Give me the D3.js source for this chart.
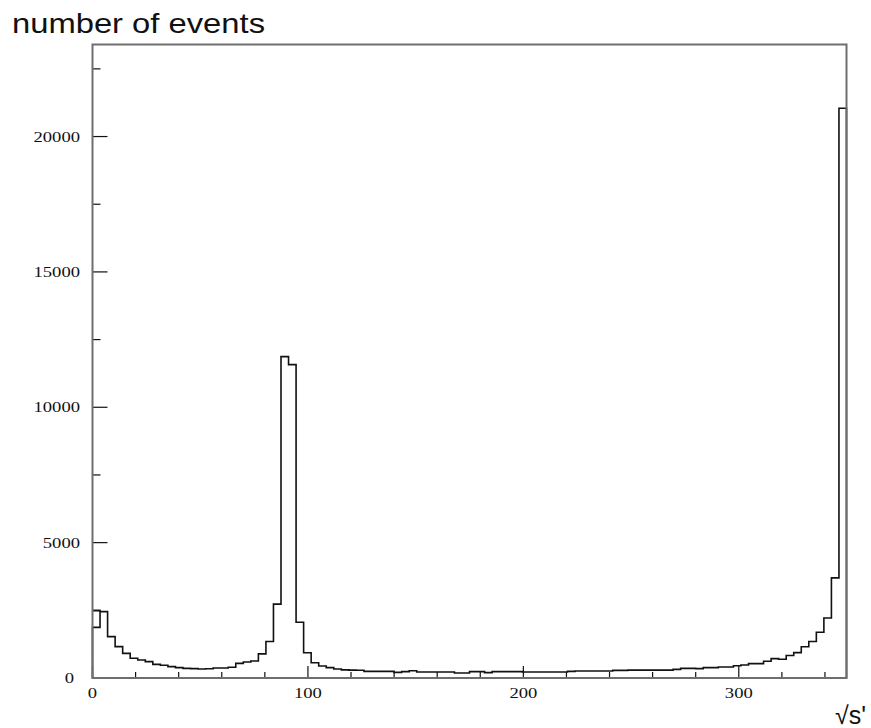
<!DOCTYPE html>
<meta charset="utf-8">
<title>number of events</title>
<script src="https://d3js.org/d3.v7.min.js"></script>
<style>
body {margin: 0; background: #fff;}
.frame {fill: none; stroke: #6e6e6e; stroke-width: 2px;}
.hist {fill: none; stroke: #111; stroke-width: 1.6px;}
.tick {stroke: #111; stroke-width: 1.2px;}
.num {font-family: "Liberation Serif", "DejaVu Serif", serif; font-size: 15px; fill: #111;}
</style>
<body>
<div id="my_dataviz"></div>
<script>
// histogram: 100 bins of width 3.5 from 0 to 350
var binWidth = 3.5;
var counts = [
  1870, 2450, 1530, 1160, 910, 730, 665, 605, 505, 470,
  420, 385, 357, 345, 332, 340, 369, 370, 395, 540,
  590, 630, 890, 1350, 2730, 11870, 11575, 2060, 930, 566,
  443, 382, 332, 300, 292, 285, 246, 246, 246, 246,
  209, 234, 270, 222, 222, 222, 222, 222, 185, 185,
  234, 234, 197, 234, 234, 234, 234, 222, 222, 222,
  222, 222, 222, 246, 258, 258, 258, 258, 258, 283,
  283, 290, 290, 290, 290, 290, 290, 320, 357, 357,
  345, 382, 382, 406, 406, 455, 480, 530, 530, 616,
  714, 690, 830, 936, 1157, 1350, 1690, 2215, 3700, 21045
];
// the first bin also shows an upper edge at this level
var firstBinUpper = 2490;

var xTicks = d3.range(0, 341, 20);
var xLabels = [0, 100, 200, 300];
var yTicks = d3.range(0, 22501, 2500);
var yLabels = [0, 5000, 10000, 15000, 20000];

var W = 871, H = 728;
var x = d3.scaleLinear().domain([0, 350]).range([92.5, 846.5]);
var y = d3.scaleLinear().domain([0, 23400]).range([678, 44.5]);

var svg = d3.select("#my_dataviz")
  .append("svg")
    .attr("width", W)
    .attr("height", H);

// title
svg.append("text")
  .attr("x", 12)
  .attr("y", 33)
  .attr("textLength", 253)
  .attr("lengthAdjust", "spacingAndGlyphs")
  .style("font-family", "'Liberation Sans', Arial, sans-serif")
  .style("font-size", "28px")
  .style("fill", "#111")
  .text("number of events");

// histogram outline
var bins = counts.map(function(c, i) { return {x0: i * binWidth, x1: (i + 1) * binWidth, c: c}; });
var pts = [[x(0), y(0)]];
bins.forEach(function(b) {
  pts.push([x(b.x0), y(b.c)]);
  pts.push([x(b.x1), y(b.c)]);
});
pts.push([x(350), y(0)]);
svg.append("path")
  .attr("class", "hist")
  .attr("d", d3.line()(pts));

svg.append("path")
  .attr("class", "hist")
  .attr("d", d3.line()([[x(0), y(firstBinUpper)], [x(binWidth), y(firstBinUpper)], [x(binWidth), y(counts[1])]]));

// x ticks (inside the frame)
svg.selectAll(".xt")
  .data(xTicks)
  .enter()
  .append("line")
    .attr("class", "tick")
    .attr("x1", function(d) { return x(d); })
    .attr("x2", function(d) { return x(d); })
    .attr("y1", y(0))
    .attr("y2", function(d) { return y(0) - (d % 100 === 0 ? 12 : 6); });

svg.selectAll(".xl")
  .data(xLabels)
  .enter()
  .append("text")
    .attr("class", "num")
    .attr("x", function(d) { return x(d); })
    .attr("y", 698)
    .attr("text-anchor", "middle")
    .attr("textLength", function(d) { return String(d).length * 9.3; })
    .attr("lengthAdjust", "spacingAndGlyphs")
    .text(function(d) { return d; });

// y ticks
svg.selectAll(".yt")
  .data(yTicks)
  .enter()
  .append("line")
    .attr("class", "tick")
    .attr("x1", x(0))
    .attr("x2", function(d) { return x(0) + (d % 5000 === 0 ? 15 : 8); })
    .attr("y1", function(d) { return y(d); })
    .attr("y2", function(d) { return y(d); });

svg.selectAll(".yl")
  .data(yLabels)
  .enter()
  .append("text")
    .attr("class", "num")
    .attr("x", function(d) { return d === 0 ? 74 : 80; })
    .attr("y", function(d) { return y(d) + 5; })
    .attr("text-anchor", "end")
    .attr("textLength", function(d) { return String(d).length * 9.3; })
    .attr("lengthAdjust", "spacingAndGlyphs")
    .text(function(d) { return d; });

// frame
svg.append("rect")
  .attr("class", "frame")
  .attr("x", x(0))
  .attr("y", y(23400))
  .attr("width", x(350) - x(0))
  .attr("height", y(0) - y(23400));

// x axis title
svg.append("text")
  .attr("x", 866)
  .attr("y", 724)
  .attr("text-anchor", "end")
  .style("font-family", "'Liberation Sans', Arial, sans-serif")
  .style("font-size", "25px")
  .style("fill", "#111")
  .text("\u221As'");
</script>
</body>
